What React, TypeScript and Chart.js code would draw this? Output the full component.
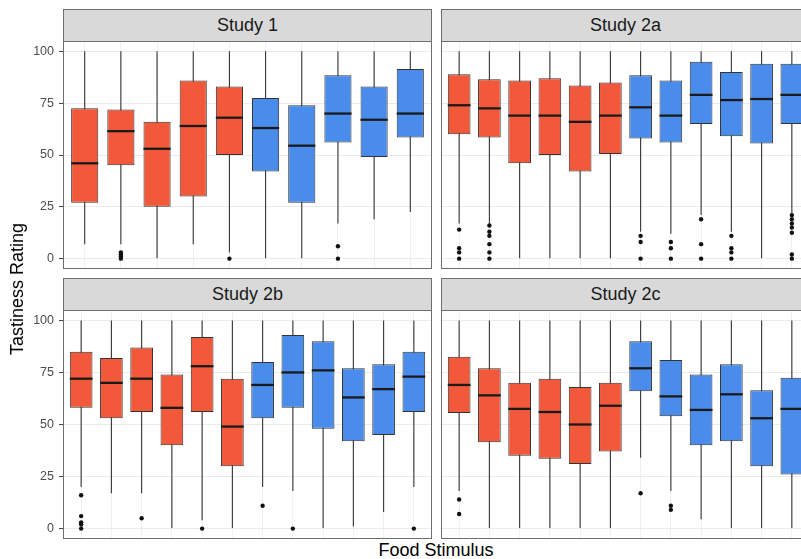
import React, { useEffect, useRef } from "react";
import { Chart, registerables } from "chart.js";

Chart.register(...registerables);

const FONT = "'Liberation Sans', Arial, Helvetica, sans-serif";
const RED = "#F2583A";
const BLUE = "#4A8CEB";
const Y_TICKS = [0, 25, 50, 75, 100];

// ---------- Study 1 (10 food stimuli) ----------
const S1_FOODS = ["Food 1", "Food 2", "Food 3", "Food 4", "Food 5", "Food 6", "Food 7", "Food 8", "Food 9", "Food 10"];
const S1_GROUP = [0, 0, 0, 0, 0, 1, 1, 1, 1, 1];
const S1_Q1 = [27, 45, 25, 30, 50, 42, 27, 56, 49, 58.5];
const S1_MED = [46, 61.5, 53, 64, 68, 63, 54.5, 70, 67, 70];
const S1_Q3 = [72.5, 72, 66, 86, 83, 77.5, 74, 88.5, 83, 91.5];
const S1_LO = [7, 7, 0, 7, 3, 0, 0, 17, 19, 22.5];
const S1_HI = [100, 100, 100, 100, 100, 100, 100, 100, 100, 100];
const S1_OUT = [[], [3, 2, 1, 0], [], [], [0], [], [], [6, 0], [], []];

// ---------- Study 2a (12 food stimuli) ----------
const S2_FOODS = ["Food 1", "Food 2", "Food 3", "Food 4", "Food 5", "Food 6", "Food 7", "Food 8", "Food 9", "Food 10", "Food 11", "Food 12"];
const S2_GROUP = [0, 0, 0, 0, 0, 0, 1, 1, 1, 1, 1, 1];
const S2A_Q1 = [60, 58.5, 46, 50, 42, 50.5, 58, 56, 65, 59, 55.5, 65];
const S2A_MED = [74, 72.5, 69, 69, 66, 69, 73, 69, 79, 76.5, 77, 79];
const S2A_Q3 = [89, 86.5, 86, 87, 83.5, 85, 88.5, 86, 95, 90, 94, 94];
const S2A_LO = [17, 17, 0, 0, 0, 0, 13, 12, 21, 13, 0, 22];
const S2A_HI = [100, 100, 100, 100, 100, 100, 100, 100, 100, 100, 100, 100];
const S2A_OUT = [[14, 5, 3, 0], [16, 13, 11, 7, 3, 0], [], [], [], [], [11, 8, 0], [8, 5, 0], [19, 7, 0], [11, 5, 3, 0], [], [21, 19, 17, 15, 12.5, 2, 0]];

// ---------- Study 2b ----------
const S2B_Q1 = [58, 53, 56, 40, 56, 30, 53, 58, 48, 42, 45, 56];
const S2B_MED = [72, 70, 72, 58, 78, 49, 69, 75, 76, 63, 67, 73];
const S2B_Q3 = [85, 82, 87, 74, 92, 72, 80, 93, 90, 77, 79, 85];
const S2B_LO = [20, 17, 17, 0, 4, 0, 20, 18, 0, 1, 8, 20];
const S2B_HI = [100, 100, 100, 100, 100, 100, 100, 100, 100, 100, 100, 100];
const S2B_OUT = [[16, 6, 3, 2, 0], [], [5], [], [0], [], [11], [0], [], [], [], [0]];

// ---------- Study 2c ----------
const S2C_Q1 = [55.5, 41.5, 35, 33.5, 31, 37, 66, 54, 40, 42, 30, 26];
const S2C_MED = [69, 64, 57.5, 56, 50, 59, 77, 63.5, 57, 64.5, 53, 57.5];
const S2C_Q3 = [82.5, 77, 70, 72, 68, 70, 90, 81, 74, 79, 66.5, 72.5];
const S2C_LO = [18, 0, 0, 0, 0, 0, 34, 18, 4.5, 0, 0, 0];
const S2C_HI = [100, 100, 100, 100, 100, 100, 100, 100, 100, 100, 100, 100];
const S2C_OUT = [[14, 7], [], [], [], [], [], [17], [11, 9], [], [], [], []];

const BORDER = "#6E6E6E";

const borderPlugin = {
  id: "panelBorder",
  afterDraw(chart: any) {
    const { ctx, chartArea } = chart;
    ctx.save();
    ctx.strokeStyle = BORDER;
    ctx.lineWidth = 1;
    ctx.strokeRect(chartArea.left + 0.5, chartArea.top + 0.5, chartArea.right - chartArea.left - 1, chartArea.bottom - chartArea.top - 1);
    ctx.restore();
  },
};

type PanelProps = {
  title: string;
  foods: string[];
  groups: number[];
  q1: number[];
  med: number[];
  q3: number[];
  lo: number[];
  hi: number[];
  outliers: number[][];
  left: number;
  top: number;
  width: number;
  height: number;
  yAxisWidth: number;
};

function Panel(p: PanelProps) {
  const ref = useRef<HTMLCanvasElement | null>(null);
  useEffect(() => {
    if (!ref.current) return;
    const n = p.foods.length;
    const xs = p.foods.map((_, i) => i + 1);
    const colors = p.groups.map((g) => (g === 0 ? RED : BLUE));
    const showY = p.yAxisWidth > 0;
    const chart = new Chart(ref.current, {
      type: "bar",
      data: {
        datasets: [
          {
            label: "whisker",
            data: xs.map((x, i) => ({ x, y: [p.lo[i], p.hi[i]] })),
            backgroundColor: "#333333",
            grouped: false,
            maxBarThickness: 1.1,
            barPercentage: 0.75,
            categoryPercentage: 1,
            order: 4,
          } as any,
          {
            label: "box",
            data: xs.map((x, i) => ({ x, y: [p.q1[i], p.q3[i]] })),
            backgroundColor: colors,
            borderColor: "#333333",
            borderWidth: 1,
            borderSkipped: false,
            grouped: false,
            barPercentage: 0.75,
            categoryPercentage: 1,
            order: 3,
          } as any,
          {
            label: "median",
            data: xs.map((x, i) => ({ x, y: [p.med[i] - 0.55, p.med[i] + 0.55] })),
            backgroundColor: "#1a1a1a",
            grouped: false,
            barPercentage: 0.75,
            categoryPercentage: 1,
            order: 2,
          } as any,
          {
            type: "scatter",
            label: "outliers",
            data: p.outliers.flatMap((vals, i) => vals.map((v) => ({ x: i + 1, y: v }))),
            pointRadius: 2.2,
            pointBackgroundColor: "#111111",
            pointBorderWidth: 0,
            order: 1,
          } as any,
        ],
      },
      options: {
        animation: false,
        responsive: false,
        maintainAspectRatio: false,
        layout: { padding: 0, autoPadding: false },
        plugins: { legend: { display: false }, tooltip: { enabled: false }, title: { display: false } },
        scales: {
          x: {
            type: "linear",
            min: 0.4,
            max: n + 0.6,
            offset: false,
            grid: { color: "#F0F0F0", drawTicks: false, offset: false },
            border: { display: false },
            ticks: { display: false },
            afterBuildTicks: (s: any) => {
              s.ticks = xs.map((v) => ({ value: v }));
            },
            afterFit: (s: any) => {
              s.height = 0;
              s.paddingLeft = 0;
              s.paddingRight = 0;
            },
          },
          y: {
            type: "linear",
            min: -5,
            max: 105,
            grid: { color: "#EBEBEB", drawTicks: showY, tickLength: 4, tickColor: "#444444" },
            border: { display: false },
            ticks: { display: showY, padding: 5, color: "#4D4D4D", font: { family: FONT, size: 12.5 } },
            afterBuildTicks: (s: any) => {
              s.ticks = Y_TICKS.map((v) => ({ value: v }));
            },
            afterFit: (s: any) => {
              s.width = p.yAxisWidth;
              s.paddingTop = 0;
              s.paddingBottom = 0;
            },
          },
        },
      } as any,
      plugins: [borderPlugin],
    });
    return () => chart.destroy();
  }, []);

  const stripLeft = p.left + p.yAxisWidth;
  const stripWidth = p.width - p.yAxisWidth;
  return (
    <>
      <div
        style={{
          position: "absolute",
          left: stripLeft,
          top: p.top - 32,
          width: stripWidth,
          height: 33,
          boxSizing: "border-box",
          background: "#D9D9D9",
          border: `1px solid ${BORDER}`,
          display: "flex",
          alignItems: "center",
          justifyContent: "center",
          fontFamily: FONT,
          fontSize: 18,
          color: "#1A1A1A",
          whiteSpace: "nowrap",
        }}
      >
        {p.title}
      </div>
      <canvas
        ref={ref}
        width={p.width}
        height={p.height}
        style={{ position: "absolute", left: p.left, top: p.top, width: p.width, height: p.height }}
      />
    </>
  );
}

export default function App() {
  return (
    <div
      style={{
        position: "absolute",
        left: 0,
        top: 0,
        width: 801,
        height: 559,
        overflow: "hidden",
        background: "#FFFFFF",
        fontFamily: FONT,
      }}
    >
      <Panel title="Study 1" foods={S1_FOODS} groups={S1_GROUP} q1={S1_Q1} med={S1_MED} q3={S1_Q3} lo={S1_LO} hi={S1_HI} outliers={S1_OUT} left={0} top={41} width={432} height={228} yAxisWidth={63} />
      <Panel title="Study 2a" foods={S2_FOODS} groups={S2_GROUP} q1={S2A_Q1} med={S2A_MED} q3={S2A_Q3} lo={S2A_LO} hi={S2A_HI} outliers={S2A_OUT} left={441} top={41} width={369} height={228} yAxisWidth={0} />
      <Panel title="Study 2b" foods={S2_FOODS} groups={S2_GROUP} q1={S2B_Q1} med={S2B_MED} q3={S2B_Q3} lo={S2B_LO} hi={S2B_HI} outliers={S2B_OUT} left={0} top={310} width={432} height={229} yAxisWidth={63} />
      <Panel title="Study 2c" foods={S2_FOODS} groups={S2_GROUP} q1={S2C_Q1} med={S2C_MED} q3={S2C_Q3} lo={S2C_LO} hi={S2C_HI} outliers={S2C_OUT} left={441} top={310} width={369} height={229} yAxisWidth={0} />
      <div
        style={{
          position: "absolute",
          left: 17,
          top: 289,
          transform: "translate(-50%, -50%) rotate(-90deg)",
          fontSize: 18,
          lineHeight: "20px",
          color: "#000000",
          whiteSpace: "nowrap",
        }}
      >
        Tastiness Rating
      </div>
      <div
        style={{
          position: "absolute",
          left: 436,
          top: 540,
          transform: "translateX(-50%)",
          fontSize: 18,
          lineHeight: "20px",
          color: "#000000",
          whiteSpace: "nowrap",
        }}
      >
        Food Stimulus
      </div>
    </div>
  );
}
